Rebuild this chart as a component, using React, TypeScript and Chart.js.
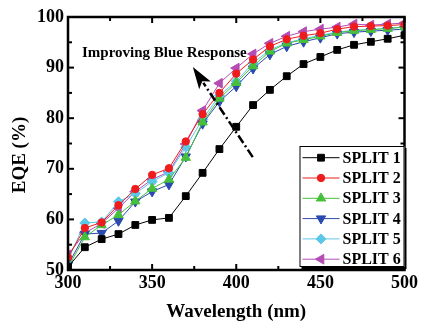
import { useEffect, useRef } from "react";
import { Chart, registerables } from "chart.js";
import { drawPoint } from "chart.js/helpers";

Chart.register(...registerables);

const wavelengths = [300, 310, 320, 330, 340, 350, 360, 370, 380, 390, 400, 410, 420, 430, 440, 450, 460, 470, 480, 490, 500];

const split1 = [50.6, 54.5, 56.1, 57.1, 58.9, 59.9, 60.3, 64.6, 69.2, 73.9, 78.3, 82.6, 85.6, 88.3, 90.7, 92.1, 93.5, 94.5, 95.1, 95.7, 96.4];
const split2 = [52.5, 58.3, 59.4, 62.8, 66.0, 68.8, 70.1, 75.4, 80.8, 85.0, 88.8, 91.6, 94.2, 95.6, 96.3, 96.8, 97.6, 98.1, 98.2, 98.3, 98.5];
const split3 = [50.5, 56.5, 58.9, 60.9, 63.6, 66.1, 67.9, 72.2, 79.2, 83.9, 87.0, 90.3, 93.2, 94.8, 95.5, 96.2, 96.9, 97.3, 97.5, 97.7, 98.0];
const split4 = [51.0, 57.1, 57.3, 59.7, 63.5, 65.5, 66.9, 72.4, 78.9, 83.3, 86.3, 89.8, 92.6, 94.2, 95.1, 95.9, 96.7, 97.0, 97.2, 97.4, 97.6];
const split5 = [52.0, 59.3, 59.5, 63.5, 65.1, 67.5, 69.2, 74.3, 79.8, 84.5, 87.3, 90.9, 93.5, 94.9, 95.7, 96.4, 97.0, 97.4, 97.5, 97.8, 98.0];
const split6 = [53.0, 57.3, 59.2, 62.2, 65.5, 67.9, 69.4, 74.9, 81.5, 86.9, 89.9, 92.7, 94.8, 96.2, 97.1, 97.6, 98.0, 98.6, 98.4, 98.6, 98.8];

const seriesNames = ["SPLIT 1", "SPLIT 2", "SPLIT 3", "SPLIT 4", "SPLIT 5", "SPLIT 6"];
const seriesValues = [split1, split2, split3, split4, split5, split6];

const xTickValues = [300, 350, 400, 450, 500];
const yTickValues = [50, 60, 70, 80, 90, 100];
const xMinorTicks = [325, 375, 425, 475];
const yMinorTicks = [55, 65, 75, 85, 95];

const xTitle = "Wavelength (nm)";
const yTitle = "EQE (%)";
const annotationText = "Improving Blue Response";
const annotationTextAt = [308.3, 92.0];
const arrowFrom = [409.8, 72.3];
const arrowTo = [374.2, 90.1];

const serif = '"Liberation Serif", "Times New Roman", serif';

const seriesStyles = [
  { color: "#000000", pointStyle: "rect", radius: 4.8, rotation: 0 },
  { color: "#ee1c1c", pointStyle: "circle", radius: 3.7, rotation: 0 },
  { color: "#46c03c", pointStyle: "triangle", radius: 5.4, rotation: 0 },
  { color: "#2a4aae", pointStyle: "triangle", radius: 5.4, rotation: 180 },
  { color: "#5cc8e8", pointStyle: "rectRot", radius: 5, rotation: 0 },
  { color: "#b44cb4", pointStyle: "triangle", radius: 5.6, rotation: -90 },
];

const decorPlugin = {
  id: "decor",
  afterDatasetsDraw(chart: any) {
    const { ctx, chartArea: a, scales } = chart;
    const xs = scales.x;
    const ys = scales.y;
    ctx.save();

    // annotation arrow (dash-dot)
    const x0 = xs.getPixelForValue(arrowFrom[0]);
    const y0 = ys.getPixelForValue(arrowFrom[1]);
    const x1 = xs.getPixelForValue(arrowTo[0]);
    const y1 = ys.getPixelForValue(arrowTo[1]);
    const ang = Math.atan2(y1 - y0, x1 - x0);
    const headLen = 22;
    const headHalf = 7;
    const bx = x1 - Math.cos(ang) * headLen;
    const by = y1 - Math.sin(ang) * headLen;
    ctx.strokeStyle = "#000";
    ctx.lineWidth = 2.5;
    ctx.setLineDash([9, 3, 2, 3]);
    ctx.beginPath();
    ctx.moveTo(x0, y0);
    ctx.lineTo(bx + Math.cos(ang) * 3, by + Math.sin(ang) * 3);
    ctx.stroke();
    ctx.setLineDash([]);
    ctx.fillStyle = "#000";
    ctx.beginPath();
    ctx.moveTo(x1, y1);
    ctx.lineTo(bx - Math.sin(ang) * headHalf, by + Math.cos(ang) * headHalf);
    ctx.lineTo(bx + Math.cos(ang) * 5, by + Math.sin(ang) * 5);
    ctx.lineTo(bx + Math.sin(ang) * headHalf, by - Math.cos(ang) * headHalf);
    ctx.closePath();
    ctx.fill();

    // annotation text
    ctx.font = `bold 15px ${serif}`;
    ctx.textAlign = "left";
    ctx.textBaseline = "alphabetic";
    ctx.fillText(annotationText, xs.getPixelForValue(annotationTextAt[0]), ys.getPixelForValue(annotationTextAt[1]));

    // frame
    ctx.lineWidth = 2.5;
    ctx.strokeStyle = "#000";
    ctx.strokeRect(a.left, a.top, a.right - a.left, a.bottom - a.top);

    // inward ticks
    ctx.lineWidth = 2;
    const tick = (xa: number, ya: number, xb: number, yb: number) => {
      ctx.beginPath();
      ctx.moveTo(xa, ya);
      ctx.lineTo(xb, yb);
      ctx.stroke();
    };
    xTickValues.forEach((v) => {
      const p = xs.getPixelForValue(v);
      tick(p, a.bottom, p, a.bottom - 6);
      tick(p, a.top, p, a.top + 6);
    });
    xMinorTicks.forEach((v) => {
      const p = xs.getPixelForValue(v);
      tick(p, a.bottom, p, a.bottom - 4);
      tick(p, a.top, p, a.top + 4);
    });
    yTickValues.forEach((v) => {
      const p = ys.getPixelForValue(v);
      tick(a.left, p, a.left + 6, p);
      tick(a.right, p, a.right - 6, p);
    });
    yMinorTicks.forEach((v) => {
      const p = ys.getPixelForValue(v);
      tick(a.left, p, a.left + 4, p);
      tick(a.right, p, a.right - 4, p);
    });

    // legend box
    const lx = a.right - 105;
    const ly = 146;
    const lw = 105;
    const lh = a.bottom - 3 - ly;
    ctx.fillStyle = "#000";
    ctx.fillRect(lx + 2, ly + 2, lw, lh);
    ctx.fillStyle = "#fff";
    ctx.fillRect(lx, ly, lw, lh);
    ctx.lineWidth = 1;
    ctx.strokeStyle = "#000";
    ctx.strokeRect(lx + 0.5, ly + 0.5, lw - 1, lh - 1);
    ctx.font = `bold 16px ${serif}`;
    ctx.textBaseline = "middle";
    ctx.textAlign = "left";
    seriesNames.forEach((name, i) => {
      const st = seriesStyles[i];
      const ry = ly + 11.7 + i * 20.3;
      ctx.strokeStyle = st.color;
      ctx.lineWidth = 1;
      ctx.beginPath();
      ctx.moveTo(lx + 3, ry);
      ctx.lineTo(lx + 40, ry);
      ctx.stroke();
      ctx.fillStyle = st.color;
      drawPoint(ctx, { pointStyle: st.pointStyle as any, radius: st.radius, rotation: st.rotation, borderWidth: 1 }, lx + 21.5, ry);
      ctx.fillStyle = "#000";
      ctx.fillText(name, lx + 43, ry + 1);
    });

    // axis titles
    ctx.fillStyle = "#000";
    ctx.font = `bold 19px ${serif}`;
    ctx.textAlign = "center";
    ctx.textBaseline = "alphabetic";
    ctx.fillText(xTitle, (a.left + a.right) / 2, 317);
    ctx.translate(25, 155);
    ctx.rotate(-Math.PI / 2);
    ctx.fillText(yTitle, 0, 0);

    ctx.restore();
  },
};

export default function App() {
  const canvasRef = useRef<HTMLCanvasElement | null>(null);

  useEffect(() => {
    const canvas = canvasRef.current;
    if (!canvas) return;
    const datasets = seriesNames.map((name, i) => {
      const st = seriesStyles[i];
      return {
        label: name,
        data: wavelengths.map((w, j) => ({ x: w, y: seriesValues[i][j] })),
        borderColor: st.color,
        backgroundColor: st.color,
        borderWidth: 1,
        pointStyle: st.pointStyle as any,
        pointRadius: st.radius,
        pointRotation: st.rotation,
        pointBackgroundColor: st.color,
        pointBorderColor: st.color,
        pointBorderWidth: 1,
        tension: 0,
      };
    });
    const chart = new Chart(canvas, {
      type: "line",
      data: { datasets },
      options: {
        animation: false,
        responsive: false,
        layout: { padding: { top: 17, right: 16, left: 0, bottom: 0 } },
        plugins: { legend: { display: false }, tooltip: { enabled: false }, title: { display: false } },
        scales: {
          x: {
            type: "linear",
            min: 300,
            max: 500,
            afterFit: (s: any) => {
              s.height = 56;
            },
            afterBuildTicks: (s: any) => {
              s.ticks = xTickValues.map((v) => ({ value: v }));
            },
            grid: { display: false, drawTicks: false },
            border: { display: false },
            ticks: {
              color: "#000",
              padding: 3,
              maxRotation: 0,
              font: { family: serif, weight: "bold", size: 18 },
            },
          },
          y: {
            type: "linear",
            min: 50,
            max: 100,
            afterFit: (s: any) => {
              s.width = 68;
            },
            afterBuildTicks: (s: any) => {
              s.ticks = yTickValues.map((v) => ({ value: v }));
            },
            grid: { display: false, drawTicks: false },
            border: { display: false },
            ticks: {
              color: "#000",
              padding: 4,
              font: { family: serif, weight: "bold", size: 18 },
            },
          },
        },
      },
      plugins: [decorPlugin],
    } as any);
    return () => chart.destroy();
  }, []);

  return (
    <div style={{ position: "absolute", left: 0, top: 0, width: 421, height: 326, background: "#fff" }}>
      <canvas ref={canvasRef} width={421} height={326} style={{ display: "block" }} />
    </div>
  );
}
